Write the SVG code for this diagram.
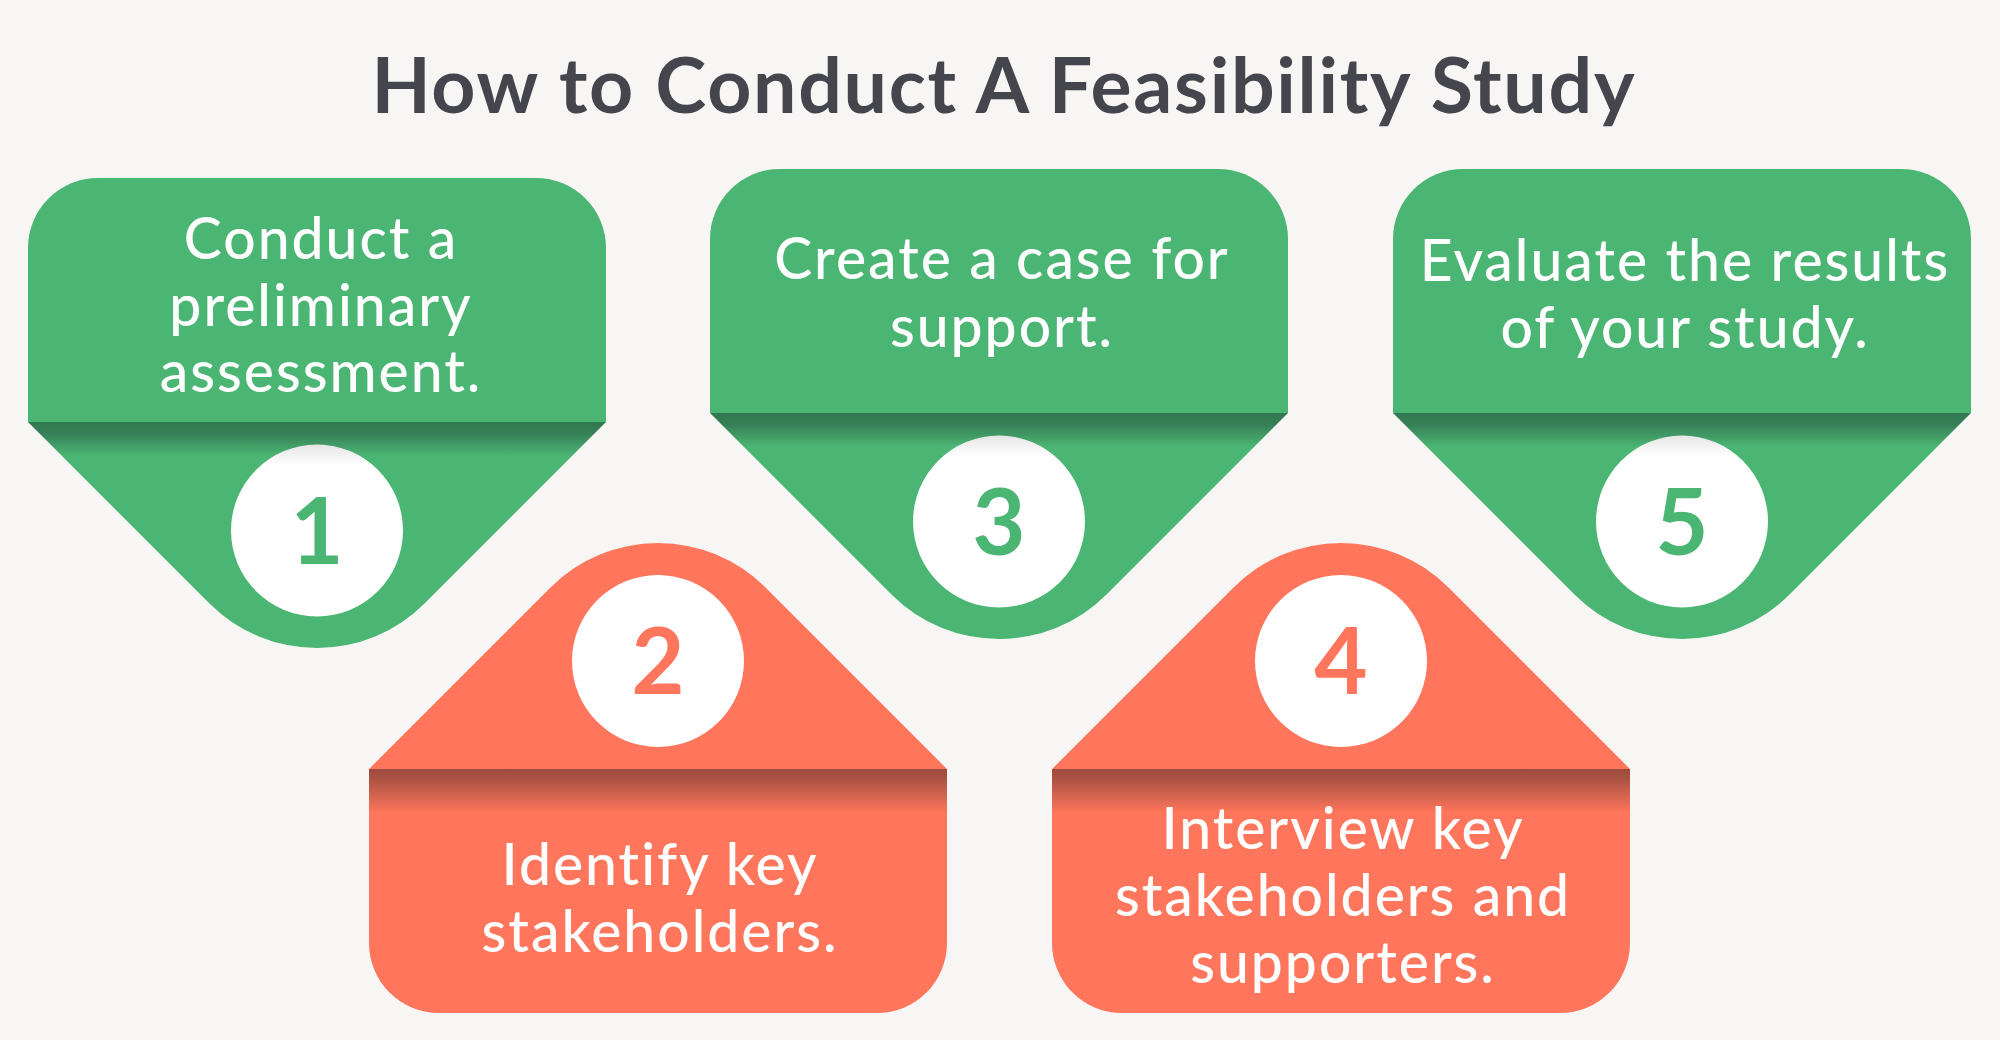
<svg xmlns="http://www.w3.org/2000/svg" width="2000" height="1040" viewBox="0 0 2000 1040">
  <defs>
    <linearGradient id="gFold" x1="0" y1="0" x2="0" y2="1">
      <stop offset="0" stop-color="#2f7850"/>
      <stop offset="0.05" stop-color="#377f57"/>
      <stop offset="0.15" stop-color="#4bb673"/>
      <stop offset="1" stop-color="#4bb673"/>
    </linearGradient>
    <linearGradient id="rFold" x1="0" y1="0" x2="0" y2="1">
      <stop offset="0" stop-color="#9c4a3c"/>
      <stop offset="0.05" stop-color="#b05545"/>
      <stop offset="0.18" stop-color="#ff765c"/>
      <stop offset="1" stop-color="#ff765c"/>
    </linearGradient>
    <linearGradient id="circShade" x1="0" y1="0" x2="0" y2="1">
      <stop offset="0" stop-color="#000" stop-opacity="0.10"/>
      <stop offset="0.12" stop-color="#000" stop-opacity="0"/>
      <stop offset="1" stop-color="#000" stop-opacity="0"/>
    </linearGradient>
    <style>
      .bg { fill: #f7f6f4; }
      .title { font-family: Lato, "Open Sans", "Liberation Sans", sans-serif; font-weight: 700; font-size: 77px; fill: #45454d; text-anchor: middle; }
      .green { fill: #4bb673; }
      .red { fill: #ff765c; }
      .circ { fill: #ffffff; }
      .label { font-family: Lato, "Open Sans", "Liberation Sans", sans-serif; font-weight: 500; font-size: 57px; letter-spacing: 2px; fill: #ffffff; text-anchor: middle; }
      .num { font-family: Lato, "Open Sans", "Liberation Sans", sans-serif; font-weight: 700; font-size: 92px; text-anchor: middle; }
      .numG { fill: #4bb673; }
      .numR { fill: #ff765c; }
    </style>
  </defs>

  <rect class="bg" x="0" y="0" width="2000" height="1040"/>

  <text class="title" x="1003" y="113" textLength="1263" lengthAdjust="spacing">How to Conduct A Feasibility Study</text>

  <!-- Step 1 -->
  <g id="step1">
    <path class="green" d="M28,422 L28,248 A70,70 0 0 1 98,178 L536,178 A70,70 0 0 1 606,248 L606,422 Z"/>
    <path fill="url(#gFold)" d="M28,422 L606,422 L424.5,603.5 A152,152 0 0 1 209.5,603.5 Z"/>
    <circle class="circ" cx="317" cy="530.5" r="86"/>
    <circle fill="url(#circShade)" cx="317" cy="530.5" r="86"/>
    <text class="num numG" x="317" y="563.5">1</text>
    <text class="label" x="321"><tspan x="321" y="259">Conduct a</tspan><tspan x="321" y="326">preliminary</tspan><tspan x="321" y="392">assessment.</tspan></text>
  </g>

  <!-- Step 3 -->
  <g id="step3">
    <path class="green" d="M710,413 L710,239 A70,70 0 0 1 780,169 L1218,169 A70,70 0 0 1 1288,239 L1288,413 Z"/>
    <path fill="url(#gFold)" d="M710,413 L1288,413 L1106.5,594.5 A152,152 0 0 1 891.5,594.5 Z"/>
    <circle class="circ" cx="999" cy="521.5" r="86"/>
    <circle fill="url(#circShade)" cx="999" cy="521.5" r="86"/>
    <text class="num numG" x="999" y="554.5">3</text>
    <text class="label" x="1002"><tspan x="1002" y="279">Create a case for</tspan><tspan x="1002" y="347">support.</tspan></text>
  </g>

  <!-- Step 5 -->
  <g id="step5">
    <path class="green" d="M1393,413 L1393,239 A70,70 0 0 1 1463,169 L1901,169 A70,70 0 0 1 1971,239 L1971,413 Z"/>
    <path fill="url(#gFold)" d="M1393,413 L1971,413 L1789.5,594.5 A152,152 0 0 1 1574.5,594.5 Z"/>
    <circle class="circ" cx="1682" cy="521.5" r="86"/>
    <circle fill="url(#circShade)" cx="1682" cy="521.5" r="86"/>
    <text class="num numG" x="1682" y="554.5">5</text>
    <text class="label" x="1685"><tspan x="1685" y="281">Evaluate the results</tspan><tspan x="1685" y="348">of your study.</tspan></text>
  </g>

  <!-- Step 2 -->
  <g id="step2">
    <path class="red" d="M369,769 L947,769 L765.5,587.5 A152,152 0 0 0 550.5,587.5 Z"/>
    <path fill="url(#rFold)" d="M369,769 L947,769 L947,943 A70,70 0 0 1 877,1013 L439,1013 A70,70 0 0 1 369,943 Z"/>
    <circle class="circ" cx="658" cy="661" r="86"/>
    <text class="num numR" x="658" y="694">2</text>
    <text class="label" x="660"><tspan x="660" y="885">Identify key</tspan><tspan x="660" y="952">stakeholders.</tspan></text>
  </g>

  <!-- Step 4 -->
  <g id="step4">
    <path class="red" d="M1052,769 L1630,769 L1448.5,587.5 A152,152 0 0 0 1233.5,587.5 Z"/>
    <path fill="url(#rFold)" d="M1052,769 L1630,769 L1630,943 A70,70 0 0 1 1560,1013 L1122,1013 A70,70 0 0 1 1052,943 Z"/>
    <circle class="circ" cx="1341" cy="661" r="86"/>
    <text class="num numR" x="1341" y="694">4</text>
    <text class="label" x="1343"><tspan x="1343" y="849">Interview key</tspan><tspan x="1343" y="916">stakeholders and</tspan><tspan x="1343" y="983">supporters.</tspan></text>
  </g>

  <g id="connectors"/>
</svg>
